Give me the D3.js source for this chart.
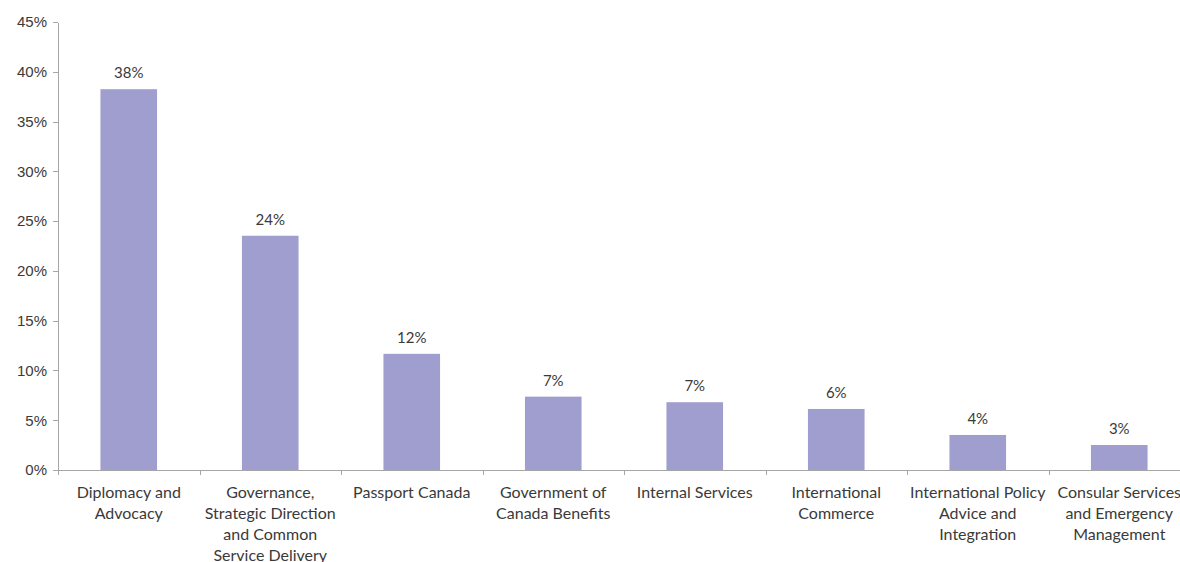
<!DOCTYPE html>
<html lang="en">
<head>
    <meta charset="UTF-8">
    <title>Spending by program</title>
    <script src="https://d3js.org/d3.v7.min.js"></script>
    <style>
        body { margin: 0; background: #fff; }
        svg { display: block; font-family: Lato, "Open Sans", sans-serif; }
        .axis text { font-size: 15px; fill: #3a3a3a; }
        .axis path, .axis line { stroke: #a6a6a6; shape-rendering: crispEdges; }
        .cat text { font-size: 16px; fill: #3a3a3a; }
        .label { font-size: 15px; fill: #3a3a3a; }
    </style>
</head>
<body>
<script>
    // data
    const categories = [
        ["Diplomacy and", "Advocacy"],
        ["Governance,", "Strategic Direction", "and Common", "Service Delivery"],
        ["Passport Canada"],
        ["Government of", "Canada Benefits"],
        ["Internal Services"],
        ["International", "Commerce"],
        ["International Policy", "Advice and", "Integration"],
        ["Consular Services", "and Emergency", "Management"]
    ];
    const values = [38.25, 23.53, 11.67, 7.37, 6.81, 6.13, 3.52, 2.51];
    const yTicks = [0, 5, 10, 15, 20, 25, 30, 35, 40, 45];

    const width = 1180, height = 562;
    const margin = { top: 22, right: -10, bottom: 92, left: 58 };
    const innerWidth = width - margin.left - margin.right;
    const innerHeight = height - margin.top - margin.bottom;

    const svg = d3.select("body").append("svg")
        .attr("width", width)
        .attr("height", height);

    const g = svg.append("g")
        .attr("transform", `translate(${margin.left},${margin.top})`);

    const ids = d3.range(categories.length);

    const x = d3.scaleBand()
        .domain(ids)
        .range([0, innerWidth])
        .paddingInner(0.6)
        .paddingOuter(0.3);

    // band edges for tick marks between categories
    const xEdge = d3.scaleLinear().domain([0, categories.length]).range([0, innerWidth]);

    const y = d3.scaleLinear()
        .domain([0, 45])
        .range([innerHeight, 0]);

    // y axis
    g.append("g")
        .attr("class", "axis")
        .call(d3.axisLeft(y).tickValues(yTicks).tickFormat(d => d + "%").tickSize(5).tickSizeOuter(0).tickPadding(6));

    // bars
    g.selectAll("rect.bar")
        .data(values)
        .enter().append("rect")
        .attr("class", "bar")
        .attr("x", (d, i) => x(i))
        .attr("y", d => y(d))
        .attr("width", x.bandwidth())
        .attr("height", d => innerHeight - y(d))
        .attr("fill", "#a09ecf");

    // value labels
    g.selectAll("text.label")
        .data(values)
        .enter().append("text")
        .attr("class", "label")
        .attr("x", (d, i) => x(i) + x.bandwidth() / 2)
        .attr("y", d => y(d) - 11)
        .attr("text-anchor", "middle")
        .text(d => d3.format(".0f")(d) + "%");

    // x axis line + tick marks at category boundaries
    g.append("g")
        .attr("class", "axis")
        .attr("transform", `translate(0,${innerHeight})`)
        .call(d3.axisBottom(xEdge).tickValues(d3.range(categories.length + 1)).tickSize(5).tickSizeOuter(0).tickFormat(""));

    // category labels, wrapped
    const catLabels = g.append("g")
        .attr("class", "cat")
        .attr("transform", `translate(0,${innerHeight})`);

    categories.forEach((lines, i) => {
        const cx = x(i) + x.bandwidth() / 2;
        const t = catLabels.append("text")
            .attr("x", cx)
            .attr("y", 28)
            .attr("text-anchor", "middle");
        lines.forEach((line, j) => {
            t.append("tspan")
                .attr("x", cx)
                .attr("dy", j === 0 ? 0 : 21)
                .text(line);
        });
    });
</script>
</body>
</html>
